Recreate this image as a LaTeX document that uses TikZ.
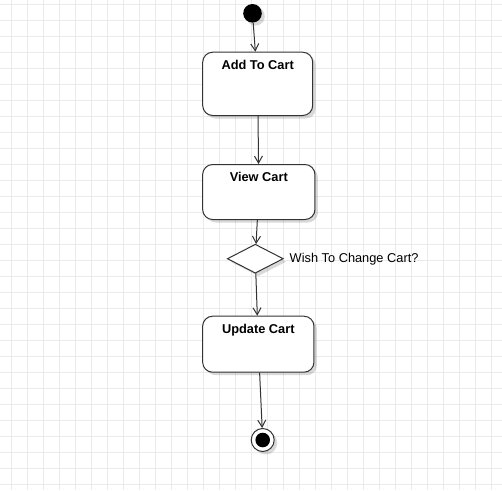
\documentclass[tikz,border=0pt]{standalone}
\usepackage{fontspec}
\setmainfont{Liberation Sans}
\usetikzlibrary{positioning,shapes.geometric,arrows.meta,shadows}

\begin{document}
\begin{tikzpicture}[x=1pt, y=-1pt,
  gridline/.style={draw=black!8, line width=1pt},
  shade/.style={drop shadow={shadow xshift=3pt, shadow yshift=-3pt, opacity=0.15, fill=black}},
  act/.style={draw=black!80, line width=1pt, fill=white, rounded corners=10pt, shade,
    anchor=north, font=\fontsize{12.8}{15}\selectfont\bfseries,
    text height=9.2pt, inner ysep=8.2pt, inner xsep=0pt},
  flow/.style={draw=black!80, line width=1pt, -{Straight Barb[length=7pt,width=8pt]}}
]
  \fill[white] (0,0) rectangle (502,490);
  \useasboundingbox (0,0) rectangle (502,490);
  \foreach \i in {0,...,30} {
    \draw[gridline] (11.7+16*\i,0) -- (11.7+16*\i,490);
    \draw[gridline] (0,4+16*\i) -- (502,4+16*\i);
  }

  \node[circle, fill=black, inner sep=0pt, minimum size=18.6pt, shade] (start) at (252.5,13.3) {};
  \node[act, minimum width=110pt, text depth=37.7pt] (add) at (257.7,51.7) {Add To Cart};
  \node[act, minimum width=112.3pt, text depth=29.4pt] (view) at (258.8,164) {View Cart};
  \node[diamond, draw=black!80, line width=1pt, fill=white, shade, inner sep=0pt,
    aspect=1.93, minimum width=56pt, minimum height=29pt] (ask) at (255.3,258.7) {};
  \node[right=5.7pt of ask, inner sep=0pt, font=\fontsize{12.8}{15}\selectfont] (asktext) {Wish To Change Cart?};
  \node[act, minimum width=111.3pt, text depth=30.4pt] (update) at (258.3,315.7) {Update Cart};
  \node[circle, draw=black!80, line width=1pt, fill=white, inner sep=0pt, minimum size=23pt, shade,
    path picture={\fill[black] (path picture bounding box.center) circle (7.3pt);}] (stop) at (262.7,440) {};

  \draw[flow] (start) -- (add);
  \draw[flow] (add) -- (view);
  \draw[flow] (view) -- (ask);
  \draw[flow] (ask) -- (update);
  \draw[flow] (update) -- (stop);
\end{tikzpicture}
\end{document}
